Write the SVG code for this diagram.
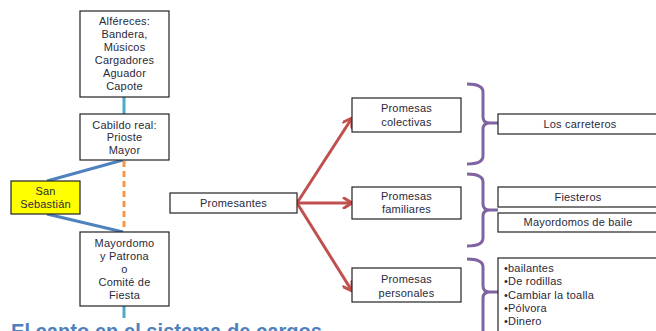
<svg xmlns="http://www.w3.org/2000/svg" width="656" height="331" viewBox="0 0 656 331">
<defs>
<style>
.box{fill:#fff;stroke:#222;stroke-width:1.2}
.t{font-family:"Liberation Sans",Arial,sans-serif;font-size:11px;letter-spacing:0.2px;fill:#2a2a3a;text-anchor:middle}
.tl{font-family:"Liberation Sans",Arial,sans-serif;font-size:11px;letter-spacing:0.2px;fill:#2a2a3a}
.arr{stroke:#C0504D;stroke-width:3;fill:none;marker-end:url(#ah)}
.br{stroke:#8064A2;stroke-width:3;fill:none}
.bl{stroke:#4F81BD;stroke-width:3;fill:none}
.tq{stroke:#4BACC6;stroke-width:3;fill:none}
</style>
<marker id="ah" markerWidth="12" markerHeight="12" viewBox="0 0 12 12" refX="10" refY="6" orient="auto" markerUnits="userSpaceOnUse">
<path d="M2,1 L10,6 L2,11" fill="none" stroke="#C0504D" stroke-width="3" stroke-linecap="round" stroke-linejoin="round"/>
</marker>
</defs>
<rect width="656" height="331" fill="#fff"/>
<g id="connectors">
<line class="tq" x1="124" y1="97" x2="124" y2="114"/>
<line class="tq" x1="124" y1="306" x2="124" y2="318"/>
<line class="bl" x1="47" y1="181" x2="123" y2="160"/>
<line class="bl" x1="47" y1="214" x2="123" y2="232"/>
<line x1="124" y1="161" x2="124" y2="231" stroke="#F79646" stroke-width="3" stroke-dasharray="6,4"/>
<line class="arr" x1="297" y1="203" x2="352" y2="118"/>
<line class="arr" x1="297" y1="203" x2="352" y2="203"/>
<line class="arr" x1="297" y1="203" x2="352" y2="291"/>
<path class="br" d="M467,84 Q483,84 483,92 L483,117 Q483,123 490,123 L498,123 M490,123 Q483,123 483,129 L483,156 Q483,164 467,164"/>
<path class="br" d="M467,174 Q483,174 483,182 L483,204 Q483,210 490,210 L498,210 M490,210 Q483,210 483,216 L483,238 Q483,246 467,246"/>
<path class="br" d="M467,259 Q483,259 483,267 L483,286 Q483,292 490,292 L498,292 M490,292 Q483,292 483,298 L483,340"/>
</g>
<g id="alfereces">
<rect class="box" x="80" y="11" width="89" height="86"/>
<text class="t" x="124.5" y="25">Alféreces:</text>
<text class="t" x="124.5" y="38">Bandera,</text>
<text class="t" x="124.5" y="51">Músicos</text>
<text class="t" x="124.5" y="64">Cargadores</text>
<text class="t" x="124.5" y="77">Aguador</text>
<text class="t" x="124.5" y="90">Capote</text>
</g>
<g id="cabildo">
<rect class="box" x="80" y="114" width="89" height="46"/>
<text class="t" x="124.5" y="129">Cabildo real:</text>
<text class="t" x="124.5" y="141">Prioste</text>
<text class="t" x="124.5" y="154">Mayor</text>
</g>
<g id="sansebastian">
<rect x="11" y="181" width="69" height="33" fill="#FFFF00" stroke="#222" stroke-width="1.2"/>
<text class="t" x="45.5" y="195">San</text>
<text class="t" x="45.5" y="208">Sebastián</text>
</g>
<g id="mayordomo">
<rect class="box" x="80" y="232" width="89" height="74"/>
<text class="t" x="124.5" y="247">Mayordomo</text>
<text class="t" x="124.5" y="260">y Patrona</text>
<text class="t" x="124.5" y="273">o</text>
<text class="t" x="124.5" y="286">Comité de</text>
<text class="t" x="124.5" y="299">Fiesta</text>
</g>
<g id="promesantes">
<rect class="box" x="170" y="193" width="127" height="20"/>
<text class="t" x="233.5" y="207" letter-spacing="0.6">Promesantes</text>
</g>
<g id="colectivas">
<rect class="box" x="352" y="98" width="109" height="34"/>
<text class="t" x="406.5" y="112">Promesas</text>
<text class="t" x="406.5" y="126">colectivas</text>
</g>
<g id="familiares">
<rect class="box" x="352" y="187" width="109" height="32"/>
<text class="t" x="406.5" y="200">Promesas</text>
<text class="t" x="406.5" y="213">familiares</text>
</g>
<g id="personales">
<rect class="box" x="352" y="268" width="109" height="34"/>
<text class="t" x="406.5" y="283">Promesas</text>
<text class="t" x="406.5" y="297">personales</text>
</g>
<g id="carreteros">
<rect class="box" x="498" y="114" width="170" height="20"/>
<text class="t" x="580" y="128">Los carreteros</text>
</g>
<g id="fiesteros">
<rect class="box" x="498" y="187" width="170" height="20"/>
<text class="t" x="578" y="201">Fiesteros</text>
</g>
<g id="mayordomosbaile">
<rect class="box" x="498" y="213" width="170" height="19"/>
<text class="t" x="578" y="226">Mayordomos de baile</text>
</g>
<g id="lista">
<rect class="box" x="498" y="258" width="170" height="90"/>
<text class="tl" x="504" y="272">•bailantes</text>
<text class="tl" x="504" y="285">•De rodillas</text>
<text class="tl" x="504" y="299">•Cambiar la toalla</text>
<text class="tl" x="504" y="312">•Pólvora</text>
<text class="tl" x="504" y="325">•Dinero</text>
</g>
<text x="11" y="339" font-family="'Liberation Sans',Arial,sans-serif" font-weight="bold" font-size="22" fill="#4F81BD" textLength="311" lengthAdjust="spacingAndGlyphs">El canto en el sistema de cargos</text>
</svg>
